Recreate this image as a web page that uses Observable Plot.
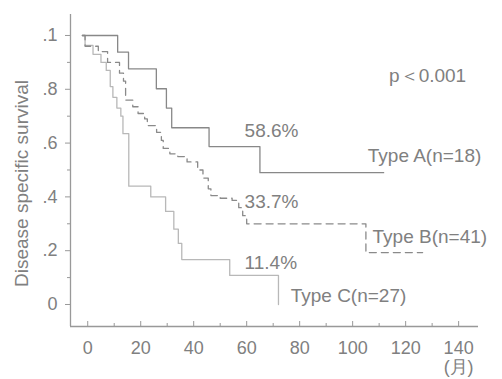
<!DOCTYPE html>
<html><head><meta charset="utf-8">
<script src="https://cdn.jsdelivr.net/npm/d3@7"></script>
<script src="https://cdn.jsdelivr.net/npm/@observablehq/plot@0.6"></script>
<style>body{margin:0;background:#fff}</style>
</head><body><div id="chart"></div>
<script>
// Kaplan–Meier step data (months, survival)
const monthsA = [-2, 11.3, 15.4, 25.9, 29.7, 31.7, 45.8, 65, 111.7];
const survA   = [1.0, 0.938, 0.876, 0.802, 0.73, 0.657, 0.587, 0.49, 0.49];

const monthsB = [-2, -1, 4, 7.5, 12, 13.5, 14.3, 17, 19, 21.5, 22.5, 26, 27.8, 28.5, 31, 34, 37.5, 41.5, 43.5, 45.5, 46.5, 50, 54.5, 57, 58.5, 60, 105, 126.4];
const survB   = [1.0, 0.96, 0.94, 0.90, 0.86, 0.83, 0.76, 0.735, 0.71, 0.69, 0.665, 0.64, 0.61, 0.58, 0.56, 0.55, 0.53, 0.50, 0.47, 0.43, 0.405, 0.395, 0.387, 0.36, 0.33, 0.30, 0.193, 0.193];

const monthsC = [-2, -1, 2, 5, 7, 8.5, 9.5, 11, 12.5, 13.3, 15.5, 23.8, 29.4, 32.5, 34.2, 35.5, 53.6, 72];
const survC   = [1.0, 0.963, 0.93, 0.90, 0.87, 0.81, 0.77, 0.73, 0.70, 0.635, 0.44, 0.40, 0.346, 0.28, 0.227, 0.167, 0.108, 0.0];

const xTicks = [0, 20, 40, 60, 80, 100, 120, 140];
const xMinor = [10, 30, 50, 70, 90, 110, 130];
const yTicks = [0, 0.2, 0.4, 0.6, 0.8, 1.0];
const yTickLabels = ["0", ".2", ".4", ".6", ".8", ".1"];
const yMinor = [0.1, 0.3, 0.5, 0.7, 0.9];

const annoText = ["p＜0.001", "58.6%", "33.7%", "11.4%", "Type A(n=18)", "Type B(n=41)", "Type C(n=27)"];
const annoX    = [128.3, 59.2, 59.2, 59.2, 105.7, 107.5, 76.6];
const annoY    = [0.851, 0.647, 0.383, 0.156, 0.554, 0.253, 0.033];
const annoAnchor = ["middle", "start", "start", "start", "start", "start", "start"];

const yTitle = "Disease specific survival";
const xUnit = "(月)";

const xDomain = [-6.5, 147.5];
const yDomain = [-0.0818, 1.078];

const toRows = (ms, ss) => ms.map((m, i) => ({m, s: ss[i]}));
const rowsA = toRows(monthsA, survA);
const rowsB = toRows(monthsB, survB);
const rowsC = toRows(monthsC, survC);
const anno = annoText.map((t, i) => ({t, x: annoX[i], y: annoY[i], a: annoAnchor[i]}));

const axisColor = "#999";
const textColor = "#808080";
const font = "'Liberation Sans', Arial, Helvetica, sans-serif";

const chart = Plot.plot({
  width: 502, height: 379,
  marginLeft: 70, marginRight: 24, marginTop: 14, marginBottom: 53,
  x: {domain: xDomain},
  y: {domain: yDomain},
  style: {fontFamily: font, fontSize: "18px", color: textColor, background: "#fff"},
  marks: [
    Plot.ruleX([xDomain[0]], {stroke: axisColor, strokeWidth: 1.3}),
    Plot.ruleY([yDomain[0]], {stroke: axisColor, strokeWidth: 1.3}),
    Plot.axisX({ticks: xTicks, tickSize: 5, dy: -5, text: null, stroke: axisColor, label: null}),
    Plot.axisX({ticks: xMinor, tickSize: 3, dy: -3, text: null, stroke: axisColor, label: null}),
    Plot.axisX({ticks: xTicks, tickSize: 0, tickPadding: 15, label: null, fill: textColor}),
    Plot.axisY({ticks: yTicks, tickSize: 5, tickPadding: 8, label: null, stroke: axisColor, fill: textColor,
      tickFormat: d => yTickLabels[yTicks.findIndex(v => Math.abs(v - d) < 1e-9)]}),
    Plot.axisY({ticks: yMinor, tickSize: 3, text: null, stroke: axisColor, label: null}),
    Plot.line(rowsC, {x: "m", y: "s", curve: "step-after", stroke: "#b8b8b8", strokeWidth: 1.3}),
    Plot.line(rowsB, {x: "m", y: "s", curve: "step-after", stroke: "#8a8a8a", strokeWidth: 1.3, strokeDasharray: "7,5"}),
    Plot.line(rowsA, {x: "m", y: "s", curve: "step-after", stroke: "#888", strokeWidth: 1.3}),
    Plot.text(anno.filter(d => d.a === "start"), {x: "x", y: "y", text: "t", textAnchor: "start", fontSize: 19, fill: textColor}),
    Plot.text(anno.filter(d => d.a === "middle"), {x: "x", y: "y", text: "t", textAnchor: "middle", fontSize: 19, fill: textColor}),
    Plot.text([yTitle], {frameAnchor: "left", textAnchor: "middle", dx: -49, dy: 13, rotate: -90, fontSize: 19, fill: textColor}),
    Plot.text([xUnit], {x: xTicks[xTicks.length - 1], frameAnchor: "bottom", dy: 46, fontSize: 18, fill: textColor})
  ]
});
document.getElementById("chart").append(chart);
</script>
</body></html>
